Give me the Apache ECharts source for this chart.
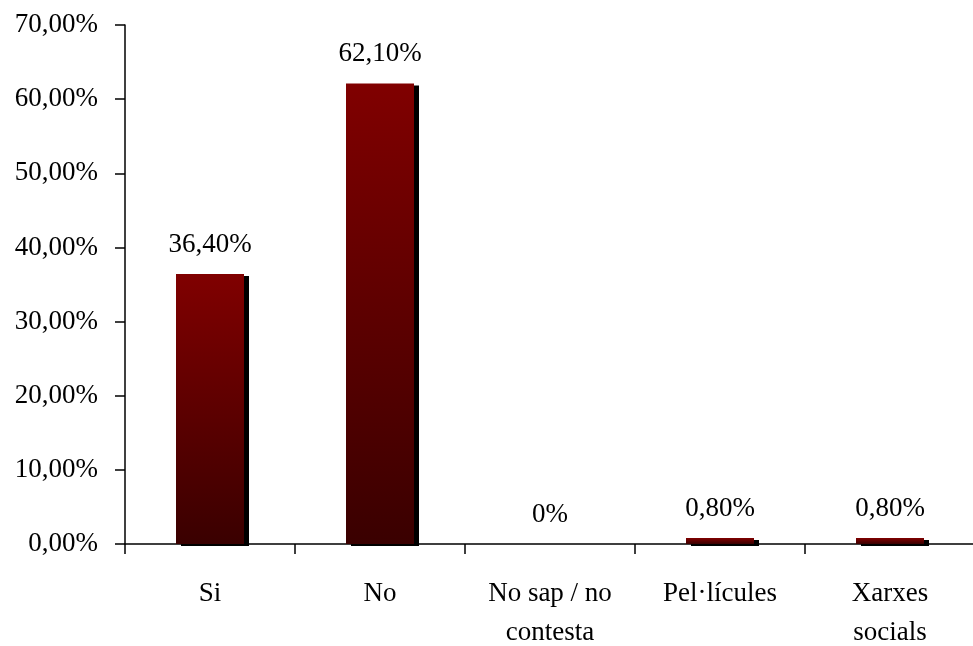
<!DOCTYPE html>
<html>
<head>
<meta charset="utf-8">
<script src="https://cdn.jsdelivr.net/npm/echarts@6/dist/echarts.min.js"></script>
<style>
  html, body { margin: 0; padding: 0; background: #fff; }
  #chart { width: 973px; height: 646px; }
</style>
</head>
<body>
<div id="chart"></div>
<script>
const categories = ['Si', 'No', 'No sap / no\ncontesta', 'Pel·lícules', 'Xarxes\nsocials'];
const values = [36.4, 62.1, 0, 0.8, 0.8];
const yTicks = { min: 0, max: 70, interval: 10 };

const fmt = v => (v === 0 ? '0' : v.toFixed(2).replace('.', ',')) + '%';
const font = '"Liberation Serif", "Times New Roman", serif';

const chart = echarts.init(document.getElementById('chart'));

chart.setOption({
  animation: false,
  grid: { left: 125, right: -2, top: 25, bottom: 102, outerBoundsMode: 'none', containLabel: false },
  xAxis: {
    type: 'category',
    data: categories,
    axisLine: { lineStyle: { color: '#000', width: 1.5 } },
    axisTick: { show: true, length: 10, lineStyle: { color: '#000', width: 1.5 } },
    axisLabel: {
      interval: 0,
      margin: 30,
      color: '#000',
      fontFamily: font,
      fontSize: 27,
      lineHeight: 39
    }
  },
  yAxis: {
    type: 'value',
    min: yTicks.min,
    max: yTicks.max,
    interval: yTicks.interval,
    axisLine: { show: true, lineStyle: { color: '#000', width: 1.5 } },
    axisTick: { show: true, length: 10, lineStyle: { color: '#000', width: 1.5 } },
    splitLine: { show: false },
    axisLabel: {
      margin: 27,
      color: '#000',
      fontFamily: font,
      fontSize: 27,
      formatter: v => v.toFixed(2).replace('.', ',') + '%'
    }
  },
  series: [
    {
      type: 'bar',
      data: values,
      barWidth: '40%',
      itemStyle: {
        color: new echarts.graphic.LinearGradient(0, 0, 0, 1, [
          { offset: 0, color: '#800000' },
          { offset: 1, color: '#3a0000' }
        ]),
        shadowColor: '#000',
        shadowBlur: 0,
        shadowOffsetX: 5,
        shadowOffsetY: 2
      },
      label: {
        show: true,
        position: 'top',
        distance: 16,
        color: '#000',
        fontFamily: font,
        fontSize: 27,
        formatter: p => fmt(p.value)
      }
    }
  ]
});
</script>
</body>
</html>
